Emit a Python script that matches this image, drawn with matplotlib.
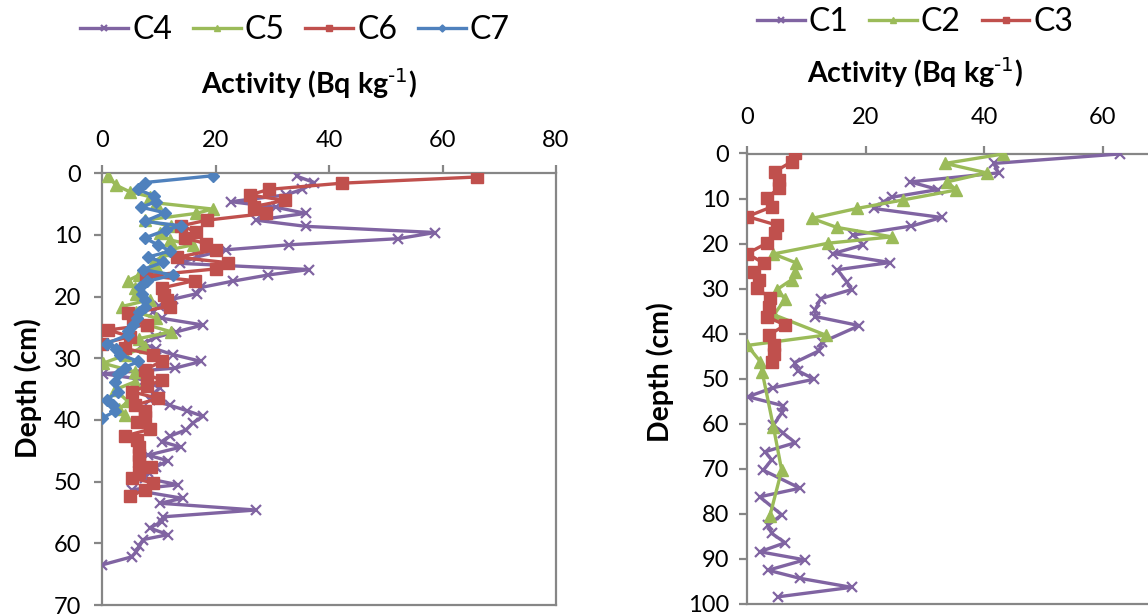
import matplotlib
matplotlib.use("Agg")
import matplotlib.pyplot as plt

plt.rcParams['font.family'] = ['Lato', 'DejaVu Sans']
plt.rcParams['axes.unicode_minus'] = False

# ---------------- Left panel data (depth in cm, activity in Bq/kg) -------------
c4_depth = [0.5, 1.5, 2.6, 3.5, 4.6, 5.5, 6.5, 7.6, 8.6, 9.6, 10.6, 11.6, 12.4, 13.5, 14.6,
            15.6, 16.5, 17.5, 18.5, 19.5, 20.4, 21.5, 22.5, 23.5, 24.6, 25.7, 26.6, 27.6,
            28.5, 29.4, 30.5, 31.6, 32.5, 33.5, 34.8, 35.8, 36.7, 37.6, 38.5, 39.4, 40.5,
            41.6, 42.6, 43.5, 44.4, 45.7, 46.6, 47.6, 48.4, 49.4, 50.5, 51.3, 52.7, 53.5,
            54.6, 55.7, 56.5, 57.5, 58.6, 59.4, 60.5, 61.4, 62.2, 63.5]
c4_activity = [34.4, 37.4, 35.3, 32.4, 22.7, 30.6, 35.9, 27.1, 35.9, 58.7, 52.2, 32.9, 21.9,
               17.0, 13.7, 36.5, 29.2, 23.0, 17.5, 16.8, 12.5, 10.0, 9.0, 10.5, 17.8, 13.1,
               9.5, 7.2, 9.5, 12.5, 17.5, 12.8, 0.2, 7.5, 10.2, 9.0, 8.5, 11.9, 15.0, 17.8,
               16.0, 14.8, 12.0, 10.5, 13.9, 8.1, 11.6, 9.5, 8.1, 7.5, 13.4, 5.2, 14.2, 10.2,
               27.1, 10.8, 10.5, 8.4, 11.6, 7.2, 6.6, 6.0, 5.2, 0.0]

c5_depth = [0.4, 1.9, 3.0, 3.8, 4.8, 5.8, 6.5, 7.6, 8.6, 9.6, 10.8, 11.6, 12.4, 13.5, 14.5,
            15.4, 16.5, 17.4, 18.6, 19.6, 20.5, 21.6, 22.5, 23.5, 24.6, 25.7, 26.8, 28.1,
            29.5, 30.8, 32.2, 33.8, 35.1, 37.0, 38.2, 39.2]
c5_activity = [1.1, 2.4, 4.9, 8.5, 9.6, 19.5, 16.6, 7.5, 12.2, 10.2, 11.9, 16.0, 11.9, 10.5,
               9.0, 9.7, 6.5, 4.6, 5.8, 6.0, 8.4, 3.5, 6.0, 9.6, 8.0, 12.2, 6.5, 7.5, 4.0,
               0.2, 5.8, 5.8, 2.3, 4.6, 3.0, 4.0]

c6_depth = [0.6, 1.6, 2.6, 3.5, 4.4, 5.4, 6.5, 7.6, 8.5, 9.5, 10.5, 11.4, 12.4, 13.6, 14.5,
            15.5, 16.6, 17.4, 18.6, 19.7, 20.6, 21.6, 22.7, 23.7, 24.6, 25.4, 26.5, 27.6,
            28.4, 29.4, 30.5, 31.9, 32.7, 33.5, 34.5, 35.4, 36.5, 37.6, 38.6, 39.5, 40.3,
            41.5, 42.6, 43.3, 44.3, 45.7, 46.7, 47.6, 48.4, 49.4, 50.2, 51.3, 52.4]
c6_activity = [66.0, 42.3, 29.5, 26.0, 32.2, 26.7, 28.9, 18.5, 14.0, 16.6, 14.6, 18.3, 20.1,
               13.3, 22.2, 20.1, 7.8, 16.3, 10.5, 11.0, 11.5, 11.9, 4.6, 5.5, 8.0, 1.1, 5.0,
               0.0, 4.0, 9.0, 10.5, 7.5, 8.0, 10.5, 8.0, 5.2, 9.9, 5.8, 7.5, 7.5, 6.1, 8.5,
               4.0, 6.1, 6.6, 6.6, 6.6, 8.7, 6.6, 5.2, 9.0, 7.5, 4.9]

c7_depth = [0.4, 1.5, 2.6, 3.7, 4.6, 5.5, 6.4, 7.8, 8.5, 9.2, 10.5, 11.6, 12.6, 13.6, 14.4,
            15.6, 16.5, 17.5, 18.4, 19.5, 20.5, 21.6, 22.5, 23.5, 24.6, 25.5, 26.2, 27.6,
            28.5, 29.4, 30.5, 31.5, 32.6, 33.8, 35.4, 36.7, 37.6, 38.6, 39.7]
c7_activity = [19.5, 7.5, 6.3, 9.2, 9.5, 6.9, 11.1, 7.5, 13.9, 11.3, 7.5, 9.9, 12.0, 8.1,
               10.8, 7.2, 12.5, 8.0, 6.7, 7.0, 7.5, 7.5, 6.5, 6.1, 5.5, 4.6, 4.6, 0.8, 2.5,
               3.2, 6.4, 4.0, 2.8, 2.3, 2.9, 0.8, 2.0, 2.3, 0.0]

# ---------------- Right panel data ----------------
c1_depth = [0.1, 2.2, 4.3, 6.3, 8.0, 9.7, 10.7, 12.2, 14.2, 16.1, 18.1, 20.3, 22.2, 24.2,
            25.8, 28.5, 30.2, 32.2, 34.8, 36.2, 38.2, 41.9, 43.8, 46.4, 48.2, 50.1, 52.0,
            54.0, 56.0, 57.6, 60.3, 62.0, 64.2, 66.2, 68.0, 70.3, 74.3, 76.2, 80.2, 82.5,
            84.3, 86.4, 88.4, 90.2, 92.5, 94.3, 96.3, 98.4]
c1_activity = [62.9, 41.6, 42.4, 27.5, 32.2, 24.4, 23.0, 21.3, 32.8, 27.7, 17.9, 19.6, 14.5,
               24.1, 15.2, 16.8, 17.6, 12.4, 11.4, 11.5, 18.9, 12.6, 12.1, 8.0, 8.5, 11.3,
               4.3, 0.1, 6.1, 5.8, 4.4, 6.0, 8.1, 3.0, 4.1, 2.7, 8.9, 2.1, 5.8, 3.5, 4.1,
               6.4, 2.1, 9.7, 3.5, 8.9, 17.6, 5.2]

c2_depth = [0.1, 2.2, 4.3, 6.3, 8.1, 10.3, 12.2, 14.4, 16.4, 18.5, 19.9, 22.3, 24.3, 26.2,
            28.0, 30.2, 32.3, 35.8, 40.3, 42.6, 46.2, 48.4, 60.6, 70.3, 80.5]
c2_activity = [43.2, 33.4, 40.4, 33.7, 35.3, 26.3, 18.5, 10.9, 15.1, 24.4, 13.7, 4.4, 8.3,
               8.1, 7.5, 5.0, 6.4, 4.5, 13.2, 0.0, 2.2, 2.5, 4.4, 5.8, 3.8]

c3_depth = [0.0, 1.8, 4.0, 5.9, 7.7, 9.9, 11.8, 14.0, 15.9, 17.7, 19.9, 22.2, 24.4, 26.2,
            28.1, 29.9, 32.1, 34.0, 36.2, 38.1, 40.3, 42.5, 44.4, 46.2]
c3_activity = [8.1, 7.5, 4.7, 5.3, 5.3, 3.3, 4.2, 0.0, 5.0, 4.7, 3.3, 0.0, 2.8, 1.1, 1.9,
               1.6, 3.9, 3.6, 3.3, 6.4, 3.6, 4.5, 4.5, 4.2]

left_xticks = [0, 20, 40, 60, 80]
left_yticks = [0, 10, 20, 30, 40, 50, 60, 70]
right_xticks = [0, 20, 40, 60]
right_yticks = [0, 10, 20, 30, 40, 50, 60, 70, 80, 90, 100]

PURPLE = '#8064A2'
GREEN = '#9BBB59'
RED = '#C0504D'
BLUE = '#4F81BD'
AXC = '#868686'

styles = {
    'x': dict(color=PURPLE, marker='x', ms=7, mew=1.6),
    '^': dict(color=GREEN, marker='^', ms=8),
    's': dict(color=RED, marker='s', ms=8),
    'D': dict(color=BLUE, marker='D', ms=6),
}

fig = plt.figure(figsize=(11.48, 6.15), dpi=100)
W, H = 1148, 615

def px_axes(x0, y0, x1, y1):
    return fig.add_axes([x0 / W, 1 - y1 / H, (x1 - x0) / W, (y1 - y0) / H])

axL = px_axes(102, 173.3, 556, 605)
axR = px_axes(747.3, 153.5, 1148, 604)

def style_axes(ax, xpad, ypad):
    ax.xaxis.tick_top()
    ax.xaxis.set_label_position('top')
    for s in ax.spines.values():
        s.set_color(AXC)
        s.set_linewidth(1.6)
    ax.tick_params(axis='both', colors=AXC, labelcolor='black', length=6,
                   width=1.6, labelsize=17)
    ax.tick_params(axis='x', pad=xpad)
    ax.tick_params(axis='y', pad=ypad)

def plot_series(ax, d, v, key, label):
    ax.plot(v, d, lw=2.4, label=label, **styles[key], zorder=3)

LABEL = 'Activity (Bq kg$^{\\text{-1}}$)'

# Left
plot_series(axL, c4_depth, c4_activity, 'x', 'C4')
plot_series(axL, c5_depth, c5_activity, '^', 'C5')
plot_series(axL, c6_depth, c6_activity, 's', 'C6')
plot_series(axL, c7_depth, c7_activity, 'D', 'C7')
axL.set_xlim(0, 80)
axL.set_ylim(70, 0)
axL.set_xticks(left_xticks)
axL.set_yticks(left_yticks)
style_axes(axL, 10, 9)
axL.set_xlabel(LABEL, fontsize=20.5, fontweight='bold')
axL.xaxis.set_label_coords(0.456, 1.209)
axL.xaxis.label.set_va('center')
axL.set_ylabel('Depth (cm)', fontsize=20.5, fontweight='bold')
axL.yaxis.set_label_coords(-0.163, 0.503)
axL.yaxis.label.set_va('center')

# Right
plot_series(axR, c1_depth, c1_activity, 'x', 'C1')
plot_series(axR, c2_depth, c2_activity, '^', 'C2')
plot_series(axR, c3_depth, c3_activity, 's', 'C3')
axR.set_xlim(0, (1148 - 747.3) / 5.925)
axR.set_ylim(100, 0)
axR.set_xticks(right_xticks)
axR.set_yticks(right_yticks)
style_axes(axR, 12, 7)
axR.spines['right'].set_visible(False)
axR.set_xlabel(LABEL, fontsize=20.5, fontweight='bold')
axR.xaxis.set_label_coords(0.4185, 1.179)
axR.xaxis.label.set_va('center')
axR.set_ylabel('Depth (cm)', fontsize=20.5, fontweight='bold')
axR.yaxis.set_label_coords(-0.218, 0.515)
axR.yaxis.label.set_va('center')

leg_kw = dict(loc='center', frameon=False, fontsize=23, handlelength=1.5,
              handletextpad=0.12, columnspacing=0.65, markerscale=0.6)
h, l = axL.get_legend_handles_labels()
fig.legend(h, l, ncol=4, bbox_to_anchor=(295 / W, 1 - 30 / H), **leg_kw)
h, l = axR.get_legend_handles_labels()
fig.legend(h, l, ncol=3, bbox_to_anchor=(915 / W, 1 - 22 / H), **leg_kw)

fig.savefig('out.png', dpi=100)
